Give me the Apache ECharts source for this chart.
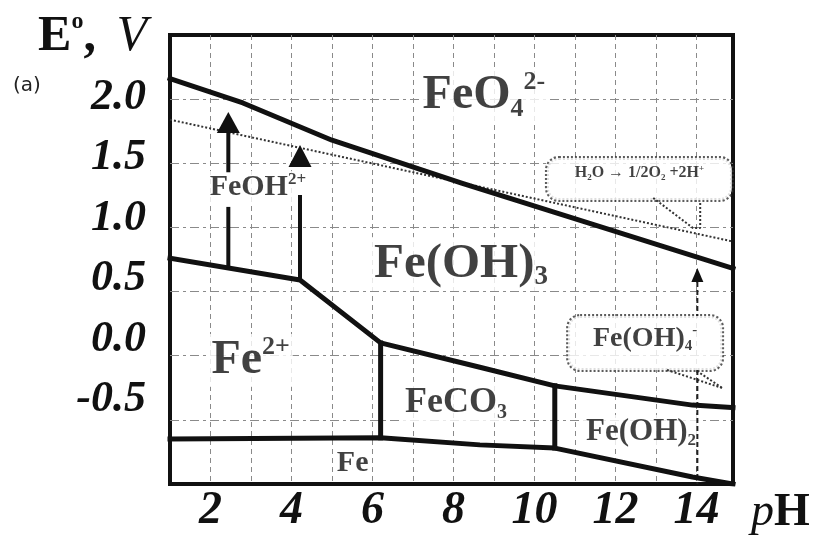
<!DOCTYPE html>
<html>
<head>
<meta charset="utf-8">
<script src="https://cdn.jsdelivr.net/npm/echarts@6.0.0/dist/echarts.min.js"></script>
<style>
html,body{margin:0;padding:0;background:#fff;}
#chart{width:816px;height:544px;}
</style>
</head>
<body>
<div id="chart"></div>
<script>
// ---------- data (pH, E° in V) ----------
const xTickLabels = ['2', '4', '6', '8', '10', '12', '14'];
const yTickLabels = ['-0.5', '0.0', '0.5', '1.0', '1.5', '2.0'];

const feo4Boundary = [[1, 2.16], [2.8, 1.97], [5, 1.68], [8.2, 1.345], [14.9, 0.68]];
const waterO2Line = [[1, 1.84], [14.9, 0.89]];
const fe3Boundary = [[1, 0.76], [4.21, 0.59], [6.2, 0.10], [8.65, -0.09], [10.5, -0.235], [13.9, -0.385], [14.9, -0.405]];
const feBoundary = [[1, -0.65], [6.2, -0.64], [8.65, -0.695], [10.5, -0.72], [13.9, -0.945], [14.9, -1.0]];
const feco3Left = [[6.2, 0.10], [6.2, -0.64]];
const feco3Right = [[10.5, -0.235], [10.5, -0.72]];
const feohLeftLower = [[2.44, 1.16], [2.44, 0.685]];
const feohLeftShaft = [[2.44, 1.736], [2.44, 1.43]];
const feohRightLower = [[4.21, 1.253], [4.21, 0.59]];
const arrowHeads = [[2.44, 1.818], [4.21, 1.557], [14.02, 0.629]];
const ph14Upper = [[14.02, 0.575], [14.02, 0.31]];
const ph14Lower = [[14.02, -0.111], [14.02, -1.0]];
const waterBoxTail = [[12.93, 1.23], [13.91, 0.996], [14.09, 0.996], [14.09, 1.198]];
const feoh4TailA = [[13.27, -0.111], [14.63, -0.251]];
const feoh4TailB = [[14.01, -0.119], [14.63, -0.251]];

// region label anchors: [pH, E, text]
const regionLabels = [
  [8.75, 2.025, '{m|FeO}{s|4}{p|2-}'],
  [8.185, 0.715, '{m|Fe(OH)}{s|3}'],
  [2.99, -0.037, '{m|Fe}{p|2+}'],
  [8.06, -0.364, '{m|FeCO}{s|3}'],
  [12.63, -0.594, '{m|Fe(OH)}{s|2}'],
  [5.51, -0.836, '{m|Fe}'],
  [3.17, 1.311, '{m|FeOH}{p|2+}']
];
const regionFontSizes = [48, 49, 48, 36, 31, 30, 30];
const boxLabels = [
  [12.59, 1.378, '{m|H}{s|2}{m|O → 1/2O}{s|2}{m| +2H}{p|+}'],
  [12.73, 0.099, '{m|Fe(OH)}{s|4}{p|-}']
];

// ---------- styles ----------
const SERIF = 'Liberation Serif';
const INK = '#111';

function richSet(size) {
  const small = Math.round(size * 0.55);
  return {
    m: {fontFamily: SERIF, fontWeight: 'bold', fontSize: size, lineHeight: Math.round(size * 1.1), color: INK},
    s: {fontFamily: SERIF, fontWeight: 'bold', fontSize: small, lineHeight: small, verticalAlign: 'bottom', color: INK},
    p: {fontFamily: SERIF, fontWeight: 'bold', fontSize: small, lineHeight: small, verticalAlign: 'top', color: INK}
  };
}

const thick = {color: INK, width: 5, join: 'round', cap: 'square'};
const medium = {color: INK, width: 4, cap: 'butt'};
const dotted = {color: '#333', width: 2, type: [2, 2]};
const dashed = {color: '#222', width: 2, type: [5, 3]};

function lineSeries(data, style, z) {
  return {type: 'line', data: data, symbol: 'none', lineStyle: style, silent: true,
          z: z, animation: false, xAxisIndex: 0, yAxisIndex: 0};
}

const regionData = regionLabels.map((r, i) => ({
  value: [r[0], r[1]],
  label: {formatter: r[2], rich: richSet(regionFontSizes[i]), backgroundColor: '#fff', padding: [0, 3]}
}));

const boxData = [
  {value: [boxLabels[0][0], boxLabels[0][1]],
   label: {formatter: boxLabels[0][2], rich: richSet(16), width: 171, height: 30, padding: [6, 7],
           backgroundColor: '#fff', borderColor: '#333', borderWidth: 2, borderType: [2, 2], borderRadius: 12}},
  {value: [boxLabels[1][0], boxLabels[1][1]],
   label: {formatter: boxLabels[1][2], rich: richSet(28), width: 140, height: 40, padding: [7, 7],
           backgroundColor: '#fff', borderColor: '#333', borderWidth: 2, borderType: [2, 2], borderRadius: 12}}
];

const arrowSizes = [[23, 21], [23, 22], [12, 14]];

const chart = echarts.init(document.getElementById('chart'), null, {renderer: 'canvas'});

const option = {
  backgroundColor: '#fff',
  animation: false,
  grid: {left: 170, top: 35, width: 563, height: 449, show: true, borderColor: INK, borderWidth: 4,
         backgroundColor: 'transparent', containLabel: false, outerBoundsMode: 'none'},
  xAxis: {
    type: 'value', min: 1, max: 14.9, interval: 1, position: 'bottom',
    axisLine: {show: false, onZero: false}, axisTick: {show: false},
    splitLine: {show: true, showMinLine: false, showMaxLine: false, lineStyle: {color: '#8a8a8a', width: 1, type: [5, 4]}},
    axisLabel: {
      formatter: v => { const s = String(Math.round(v * 10) / 10); return xTickLabels.indexOf(s) >= 0 ? s : ''; },
      fontFamily: SERIF, fontSize: 46, fontStyle: 'italic', fontWeight: 'bold', color: INK, margin: 4
    },
    name: '{p|p}{h|H}', nameLocation: 'end', nameGap: 18,
    nameTextStyle: {
      align: 'left', verticalAlign: 'top', padding: [6, 0, 0, 0],
      rich: {
        p: {fontFamily: SERIF, fontStyle: 'italic', fontSize: 46, color: INK},
        h: {fontFamily: SERIF, fontWeight: 'bold', fontSize: 46, color: INK}
      }
    }
  },
  yAxis: [
    {
      type: 'value', min: -1, max: 2.5, interval: 0.5, position: 'left',
      axisLine: {show: false, onZero: false}, axisTick: {show: false}, axisLabel: {show: false},
      splitLine: {show: true, showMinLine: false, showMaxLine: false, lineStyle: {color: '#8a8a8a', width: 1, type: [9, 4, 3, 4]}},
      name: '{e|E}{o|o}{c|, }{v|V}', nameLocation: 'end', nameGap: -2,
      nameTextStyle: {
        align: 'right', verticalAlign: 'middle', padding: [0, 23, 0, 0],
        rich: {
          e: {fontFamily: SERIF, fontWeight: 'bold', fontSize: 50, lineHeight: 54, color: INK},
          o: {fontFamily: SERIF, fontWeight: 'bold', fontSize: 24, lineHeight: 24, verticalAlign: 'top', color: INK},
          c: {fontFamily: SERIF, fontWeight: 'bold', fontSize: 50, lineHeight: 54, color: INK},
          v: {fontFamily: SERIF, fontStyle: 'italic', fontSize: 50, lineHeight: 54, color: INK, padding: [0, 0, 0, 8]}
        }
      }
    },
    {
      type: 'value', min: -1.2, max: 2.52, interval: 0.1, position: 'left',
      axisLine: {show: false, onZero: false}, axisTick: {show: false}, splitLine: {show: false},
      axisLabel: {
        formatter: v => { const r = Math.round(v * 10) / 10; const s = r.toFixed(1); return yTickLabels.indexOf(s) >= 0 ? s : ''; },
        fontFamily: SERIF, fontSize: 44, fontStyle: 'italic', fontWeight: 'bold', color: INK, margin: 24
      }
    }
  ],
  graphic: [
    {type: 'text', left: 13, top: 76, style: {text: '(a)', font: '20px "DejaVu Sans"', fill: '#222'}}
  ],
  series: [
    {type: 'scatter', data: regionData, symbolSize: 0, itemStyle: {color: 'transparent'}, silent: true, z: 3,
     label: {show: true, position: 'inside', align: 'center', verticalAlign: 'middle'}},
    {type: 'scatter', data: boxData, symbolSize: 0, itemStyle: {color: 'transparent'}, silent: true, z: 3,
     label: {show: true, position: 'inside', align: 'center', verticalAlign: 'middle'}},
    lineSeries(waterO2Line, dotted, 4),
    lineSeries(waterBoxTail, dotted, 4),
    lineSeries(feoh4TailA, dotted, 4),
    lineSeries(feoh4TailB, dotted, 4),
    lineSeries(ph14Upper, dashed, 4),
    lineSeries(ph14Lower, dashed, 4),
    lineSeries(feo4Boundary, thick, 5),
    lineSeries(fe3Boundary, thick, 5),
    lineSeries(feBoundary, thick, 5),
    lineSeries(feco3Left, thick, 5),
    lineSeries(feco3Right, thick, 5),
    lineSeries(feohLeftLower, medium, 5),
    lineSeries(feohLeftShaft, medium, 5),
    lineSeries(feohRightLower, medium, 5),
    {type: 'scatter', symbol: 'triangle', silent: true, z: 6,
     data: arrowHeads.map((p, i) => ({value: p, symbolSize: arrowSizes[i]})),
     itemStyle: {color: INK, opacity: 1}}
  ]
};
chart.setOption(option);
</script>
</body>
</html>
